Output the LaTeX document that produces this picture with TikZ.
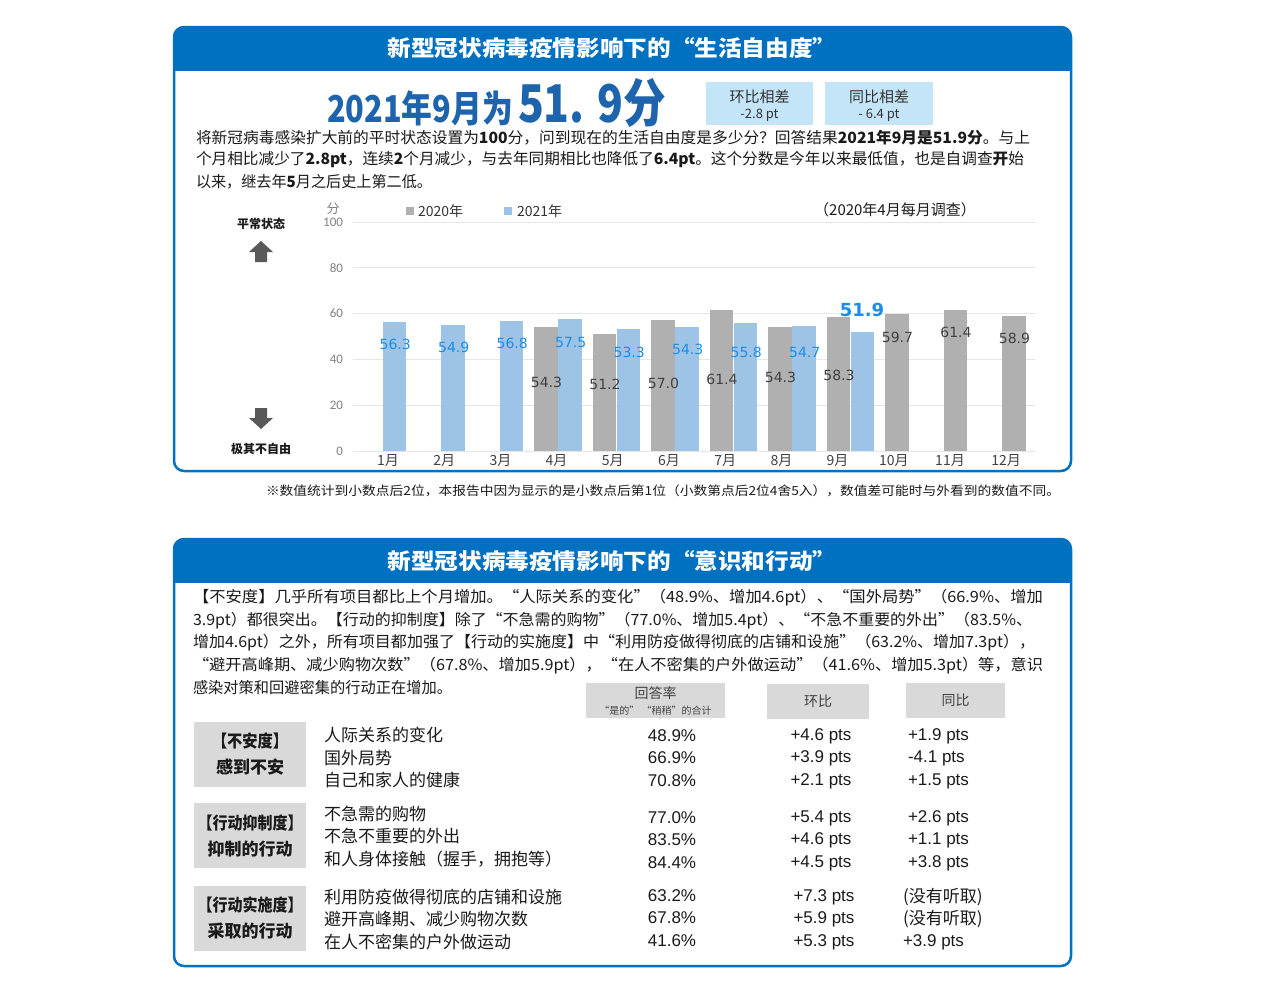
\documentclass[tikz,border=0pt]{standalone}
\usepackage{fontspec}
\usepackage{graphicx}
\setmainfont{Noto Sans CJK SC}
\newfontfamily\arialfont{Liberation Sans}
\newfontfamily\verdanafont{DejaVu Sans}
\newfontfamily\calibrifont{Carlito}
\newcommand{\fsz}[1]{\fontsize{#1}{#1}\selectfont}
\newcommand{\fitw}[2]{\resizebox{#1}{\height}{#2}}
\definecolor{hdrblue}{HTML}{0070C0}
\definecolor{titleblue}{HTML}{1E64AC}
\definecolor{diffblue}{HTML}{C4E4F8}
\definecolor{bargrey}{HTML}{B0B0B0}
\definecolor{barblue}{HTML}{9DC3E6}
\definecolor{lblblue}{HTML}{1B8EEA}
\definecolor{lblgrey}{HTML}{404040}
\definecolor{gridgrey}{HTML}{E6E6E6}
\definecolor{cellgrey}{HTML}{D9D9D9}
\definecolor{arrowgrey}{HTML}{595959}
\definecolor{txtblack}{HTML}{1A1A1A}
\definecolor{txtdark}{HTML}{333333}
\begin{document}
\begin{tikzpicture}[
        x=1pt, y=-1pt,
        every node/.style={inner sep=0pt, outer sep=0pt},
        frame/.style={draw=hdrblue, line width=2.5pt, rounded corners=10pt},
        hdrtitle/.style={text=white, font=\fsz{22}\bfseries},
        para/.style={anchor=west, text=txtblack, font=\fsz{15.5}},
        diffbox/.style={fill=diffblue, minimum width=107pt, minimum height=43pt},
        difftxt/.style={text=txtdark, font=\fsz{15}},
        side/.style={text=txtblack, font=\fsz{12}\bfseries},
        legend/.style={anchor=west, text=txtdark, font=\fsz{14}},
        tick/.style={anchor=east, text=gray, font=\calibrifont\fsz{13}},
        grid/.style={draw=gridgrey, line width=1pt},
        bar20/.style={fill=bargrey},
        bar21/.style={fill=barblue},
        lbl20/.style={text=lblgrey, font=\verdanafont\fsz{14}},
        lbl21/.style={text=lblblue, font=\verdanafont\fsz{14}},
        mon/.style={text=lblgrey, font=\fsz{14}},
        colhead/.style={fill=cellgrey, minimum height=35pt, align=center, text=lblgrey, font=\fontsize{14}{16}\selectfont},
        catbox/.style={fill=cellgrey, minimum width=112pt, minimum height=65pt, align=center, text=txtblack, font=\fontsize{17}{26}\selectfont\bfseries},
        item/.style={anchor=west, text=txtblack, font=\fsz{17}},
        num/.style={text=txtblack, font=\arialfont\fsz{17}},
    ]
    \useasboundingbox (0,0) rectangle (1280,999);
    \fill[white] (0,0) rectangle (1280,999);

    % top panel
    \begin{scope}
        \clip[rounded corners=10pt] (174,27) rectangle (1071,471);
        \fill[hdrblue] (174,27) rectangle (1071,71);
    \end{scope}
    \draw[frame] (174,27) rectangle (1071,471);
    \node[hdrtitle] (toptitle) at (612,48) {\fitw{449pt}{新型冠状病毒疫情影响下的“生活自由度”}};

    \node[anchor=base west, text=titleblue, font=\fsz{37}\bfseries] (bigA) at (327,122) {\fitw{186pt}{2021年9月为}};
    \node[anchor=base west, text=titleblue, font=\fsz{52}\bfseries] (bigB) at (518,122) {\fitw{148pt}{51.\hspace{0.3em}9分}};
    \node[diffbox] (huanbi) at (759.5,103.5) {};
    \node[diffbox, minimum width=108pt] (tongbi) at (879,103.5) {};
    \node[difftxt] (huanbiA) at (759.5,97) {环比相差};
    \node[difftxt, font=\fsz{13}] (huanbiB) at (759.5,115) {-2.8 pt};
    \node[difftxt] (tongbiA) at (879,97) {同比相差};
    \node[difftxt, font=\fsz{13}] (tongbiB) at (879,115) {- 6.4 pt};

    \node[para] (p1) at (196,138) {\fitw{834pt}{将新冠病毒感染扩大前的平时状态设置为\textbf{100}分，问到现在的生活自由度是多少分？回答结果\textbf{2021年9月是51.9分}。与上}};
    \node[para] (p2) at (196,160) {\fitw{828pt}{个月相比减少了\textbf{2.8pt}，连续\textbf{2}个月减少，与去年同期相比也降低了\textbf{6.4pt}。这个分数是今年以来最低值，也是自调查\textbf{开}始}};
    \node[para] (p3) at (196,182) {\fitw{236pt}{以来，继去年\textbf{5}月之后史上第二低。}};

    % chart
    \node[side] (normal) at (261,224) {平常状态};
    \node[side] (unfree) at (261,449) {极其不自由};
    \fill[arrowgrey] (261,241) -- (273,252) -- (267,252) -- (267,262) -- (255,262) -- (255,252) -- (249,252) -- cycle;
    \fill[arrowgrey] (255,408) -- (267,408) -- (267,418) -- (273,418) -- (261,429) -- (249,418) -- (255,418) -- cycle;

    \fill[bargrey] (406,207) rectangle (414,215);
    \node[legend] (lg20) at (418,211) {2020年};
    \fill[barblue] (504,207) rectangle (512,215);
    \node[legend] (lg21) at (517,211) {2021年};
    \node[text=txtblack, font=\fsz{15}] (survey) at (895,210) {（2020年4月每月调查）};

    \node[text=gray, font=\fsz{13}] (unit) at (333,209) {分};
    \foreach \v in {0,20,...,100} {
        \draw[grid] (353,{451-2.29*\v}) -- (1035,{451-2.29*\v});
        \node[tick] (t\v) at (343,{451-2.29*\v}) {\v};
    }

    \foreach \i/\v in {4/54.3, 5/51.2, 6/57.0, 7/61.4, 8/54.3, 9/58.3, 10/59.7, 11/61.4, 12/58.9}
        \fill[bar20] ({300+58.5*\i},451) rectangle ({323.5+58.5*\i},{451-2.29*\v});
    \foreach \i/\v in {1/56.3, 2/54.9, 3/56.8, 4/57.5, 5/53.3, 6/54.3, 7/55.8, 8/54.7, 9/51.9}
        \fill[bar21] ({324+58.5*\i},451) rectangle ({347.5+58.5*\i},{451-2.29*\v});

    \foreach \i/\v/\ly in {4/54.3/382, 5/51.2/384, 6/57.0/383, 7/61.4/379, 8/54.3/377, 9/58.3/375, 10/59.7/337, 11/61.4/332, 12/58.9/338}
        \node[lbl20] (a\i) at ({312.5+58.5*\i},\ly) {\v};
    \foreach \i/\v/\ly in {1/56.3/344, 2/54.9/347, 3/56.8/343, 4/57.5/342, 5/53.3/352, 6/54.3/349, 7/55.8/352, 8/54.7/352}
        \node[lbl21] (b\i) at ({336.75+58.5*\i},\ly) {\v};
    \node[lbl21, font=\verdanafont\fsz{18}\bfseries] (b9) at (862,310) {51.9};

    \foreach \i in {1,...,12}
        \node[mon] (m\i) at ({388+56.2*(\i-1)},461) {\i{}月};

    \node[anchor=west, text=txtblack, font=\fsz{12.5}] (foot) at (266,491) {\fitw{794pt}{※数值统计到小数点后2位，本报告中因为显示的是小数点后第1位（小数第点后2位4舍5入），数值差可能时与外看到的数值不同。}};

    % bottom panel
    \begin{scope}
        \clip[rounded corners=10pt] (174,539) rectangle (1071,966);
        \fill[hdrblue] (174,539) rectangle (1071,583);
    \end{scope}
    \draw[frame] (174,539) rectangle (1071,966);
    \node[hdrtitle] (bottitle) at (612,561) {\fitw{449pt}{新型冠状病毒疫情影响下的“意识和行动”}};

    \node[para] (q1) at (193,598) {\fitw{850pt}{【不安度】几乎所有项目都比上个月增加。“人际关系的变化”（48.9\%、增加4.6pt）、“国外局势”（66.9\%、增加}};
    \node[para] (q2) at (193,621) {\fitw{839pt}{3.9pt）都很突出。【行动的抑制度】除了“不急需的购物”（77.0\%、增加5.4pt）、“不急不重要的外出”（83.5\%、}};
    \node[para] (q3) at (193,643) {\fitw{842pt}{增加4.6pt）之外，所有项目都加强了【行动的实施度】中“利用防疫做得彻底的店铺和设施”（63.2\%、增加7.3pt），}};
    \node[para] (q4) at (193,666) {\fitw{850pt}{“避开高峰期、减少购物次数”（67.8\%、增加5.9pt），“在人不密集的户外做运动”（41.6\%、增加5.3pt）等，意识}};
    \node[para] (q5) at (193,688) {\fitw{259pt}{感染对策和回避密集的行动正在增加。}};

    \node[colhead, minimum width=139pt] (hrate) at (655.5,700.5) {回答率\\{\fontsize{10}{12}\selectfont “是的” “稍稍”的合计}};
    \node[colhead, minimum width=102pt] (hhb) at (818,701.5) {环比};
    \node[colhead, minimum width=99pt] (htb) at (955.5,700.5) {同比};

    \node[catbox] (cat1) at (250,754.5) {\fitw{76pt}{【不安度】}\\感到不安};
    \node[catbox] (cat2) at (250,835.5) {\fitw{105pt}{【行动抑制度】}\\抑制的行动};
    \node[catbox] (cat3) at (250,918) {\fitw{105pt}{【行动实施度】}\\采取的行动};

    \foreach \y/\txt [count=\k] in {735/人际关系的变化, 758/国外局势, 780/自己和家人的健康, 814/不急需的购物, 836/不急不重要的外出, 859/和人身体接触（握手，拥抱等）, 897/利用防疫做得彻底的店铺和设施, 919/避开高峰期、减少购物次数, 942/在人不密集的户外做运动}
        \node[item] (it\k) at (324,\y) {\txt};

    \foreach \y/\pct/\hb/\tb [count=\k] in {736/48.9/+4.6/+1.9, 758/66.9/+3.9/-4.1, 781/70.8/+2.1/+1.5, 818/77.0/+5.4/+2.6, 840/83.5/+4.6/+1.1, 863/84.4/+4.5/+3.8} {
        \node[num] (r\k) at (672,\y) {\pct\%};
        \node[num] (h\k) at (821,\y) {\hb\ pts};
        \node[num, anchor=west] (s\k) at (908,\y) {\tb\ pts};
    }
    \node[num] (r7) at (672,896) {63.2\%};
    \node[num] (r8) at (672,918) {67.8\%};
    \node[num] (r9) at (672,941) {41.6\%};
    \node[num] (h7) at (824,897) {+7.3 pts};
    \node[num] (h8) at (824,919) {+5.9 pts};
    \node[num] (h9) at (824,942) {+5.3 pts};
    \node[item] (s7) at (903,897) {(没有听取)};
    \node[item] (s8) at (903,919) {(没有听取)};
    \node[num, anchor=west] (s9) at (903,942) {+3.9 pts};
\end{tikzpicture}
\end{document}
